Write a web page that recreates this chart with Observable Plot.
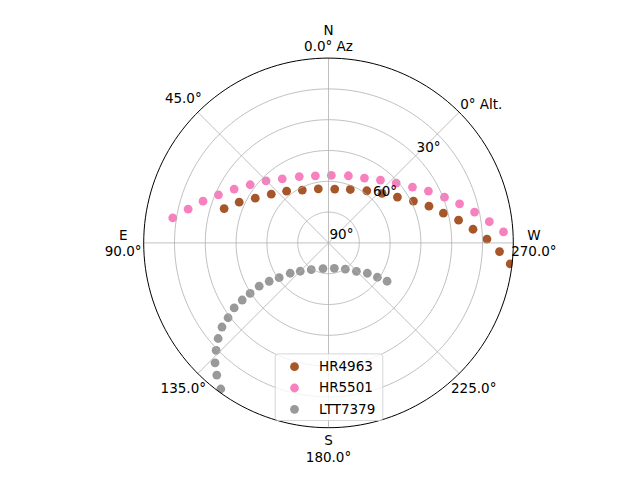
<!DOCTYPE html>
<html>
<head>
<meta charset="utf-8">
<script src="https://cdn.jsdelivr.net/npm/d3@7"></script>
<script src="https://cdn.jsdelivr.net/npm/@observablehq/plot@0.6"></script>
<style>
  html, body { margin: 0; padding: 0; background: #fff; }
  #chart svg { display: block; }
</style>
</head>
<body>
<div id="chart"></div>
<script>
// ---- data (azimuth in degrees, altitude in degrees) ----
const targets = ["HR4963", "HR5501", "LTT7379"];
const targetColors = ["#a65628", "#f781bf", "#999999"];

const hr4963Az  = [71.8, 65.5, 58.6, 49.6, 39.0, 26.4, 10.7, 353.4, 337.8, 323.7, 312.7, 303.6, 296.2, 290.1, 284.5, 279.9, 275.4, 271.4, 267.1, 263.4];
const hr4963Alt = [36.5, 42.2, 48.2, 53.4, 57.6, 61.3, 63.2, 63.6, 61.9, 58.5, 54.5, 49.7, 43.9, 37.9, 32.2, 25.7, 19.3, 12.8, 6.6, 0.9];

const hr5501Az  = [80.9, 76.5, 71.6, 66.4, 60.3, 53.4, 45.2, 35.8, 23.8, 11.1, 357.6, 343.5, 331.0, 320.4, 311.5, 303.6, 297.4, 291.5, 286.6, 281.9, 277.5, 273.6];
const hr5501Alt = [13.2, 19.7, 25.6, 31.5, 37.1, 42.5, 47.1, 51.5, 54.7, 56.7, 57.1, 55.9, 53.9, 50.3, 46.0, 40.9, 35.2, 29.3, 23.4, 17.3, 11.0, 4.6];

const ltt7379Az  = [236.8, 234.9, 232.0, 224.5, 212.6, 192.9, 167.9, 147.2, 135.1, 128.4, 125.2, 122.9, 122.0, 122.8, 123.5, 124.6, 126.7, 128.3, 130.9, 133.7, 136.6, 139.8, 143.6];
const ltt7379Alt = [55.9, 60.9, 66.0, 70.6, 74.8, 77.3, 77.2, 74.5, 70.5, 66.2, 60.6, 55.6, 50.2, 44.6, 39.6, 34.2, 29.0, 23.9, 18.9, 14.3, 9.6, 5.7, 1.6];

// ---- axis ticks / labels ----
const azTicks = [0, 45, 90, 135, 180, 225, 270, 315];
const azTickLabels = ["N\n0.0° Az", "45.0°", "E\n90.0°", "135.0°", "S\n180.0°", "225.0°", "W\n270.0°", ""];
const altGridLines = [75, 60, 45, 30, 15];
const altTickValues = [90, 60, 30, 0];
const altTickLabels = ["90°", "60°", "30°", "0° Alt."];

// ---- build tables ----
const series = [
  {name: targets[0], az: hr4963Az, alt: hr4963Alt},
  {name: targets[1], az: hr5501Az, alt: hr5501Alt},
  {name: targets[2], az: ltt7379Az, alt: ltt7379Alt}
];
const points = series.flatMap(s => s.az.map((a, i) => ({target: s.name, az: a, alt: s.alt[i]})));
const azTable = azTicks.map((a, i) => ({az: a, label: azTickLabels[i]}));
const altTable = altTickValues.map((v, i) => ({alt: v, label: altTickLabels[i]}));
const rings = altGridLines.map(a => d3.geoCircle().center([0, 90]).radius(90 - a)());
const horizon = d3.geoCircle().center([0, 90]).radius(90)();

const FONT = "DejaVu Sans";
const FS = 13.5;
const labelAltitude = -10; // theta labels sit just outside the horizon ring

const chart = Plot.plot({
  width: 640,
  height: 480,
  marginLeft: 143.2,
  marginRight: 127.2,
  marginTop: 57.6,
  marginBottom: 52.8,
  style: {fontFamily: FONT, fontSize: FS + "px", background: "#fff", color: "#000"},
  projection: {
    type: "azimuthal-equidistant",
    rotate: [180, -90],
    domain: horizon,
    clip: false
  },
  color: {domain: targets, range: targetColors},
  marks: [
    Plot.dot(points, {x: "az", y: "alt", fill: "target", r: 4.4, stroke: "none", className: "sky-dots"}),
    Plot.geo(rings, {stroke: "#b0b0b0", strokeWidth: 0.8, fill: "none"}),
    Plot.link(azTable, {x1: "az", y1: 90, x2: "az", y2: 0, stroke: "#b0b0b0", strokeWidth: 0.8}),
    Plot.geo([horizon], {stroke: "#000", strokeWidth: 1, fill: "none", className: "sky-horizon"}),
    Plot.text(altTable, {x: 315, y: "alt", text: "label", textAnchor: "start", lineAnchor: "middle",
      dx: 1, dy: -8, fontSize: FS, fill: "#000"}),
    Plot.text(azTable, {x: "az", y: labelAltitude, text: "label", textAnchor: "middle", lineAnchor: "middle",
      lineHeight: 1.2, fontSize: FS, fill: "#000"}),
    // legend box (lower center, inside the axes)
    Plot.frame({insetLeft: 131.5, insetRight: 130.5, insetTop: 295.8, insetBottom: 7.2,
      fill: "#fff", fillOpacity: 0.8, stroke: "#cccccc", strokeOpacity: 0.8, strokeWidth: 1, rx: 3}),
    ...targets.map((t, i) => Plot.dot([t], {frameAnchor: "bottom", dx: -34, dy: -61 + 21.3 * i,
      fill: targetColors[i], r: 4.4, stroke: "none"})),
    ...targets.map((t, i) => Plot.text([t], {frameAnchor: "bottom", dx: -9.5, dy: -61 + 21.3 * i,
      text: d => d, textAnchor: "start", lineAnchor: "middle", fontSize: FS, fill: "#000"}))
  ]
});

// clip the scattered targets to the horizon circle drawn by the geo mark
(function clipToHorizon() {
  const hz = chart.querySelector(".sky-horizon path");
  const dots = chart.querySelector(".sky-dots");
  if (!hz || !dots) return;
  const ns = "http://www.w3.org/2000/svg";
  const defs = document.createElementNS(ns, "defs");
  const cp = document.createElementNS(ns, "clipPath");
  cp.setAttribute("id", "horizon-clip");
  const p = document.createElementNS(ns, "path");
  p.setAttribute("d", hz.getAttribute("d"));
  const t = hz.getAttribute("transform") || hz.parentNode.getAttribute("transform");
  if (t) p.setAttribute("transform", t);
  cp.appendChild(p);
  defs.appendChild(cp);
  chart.insertBefore(defs, chart.firstChild);
  dots.setAttribute("clip-path", "url(#horizon-clip)");
})();

document.getElementById("chart").append(chart);
</script>
</body>
</html>
